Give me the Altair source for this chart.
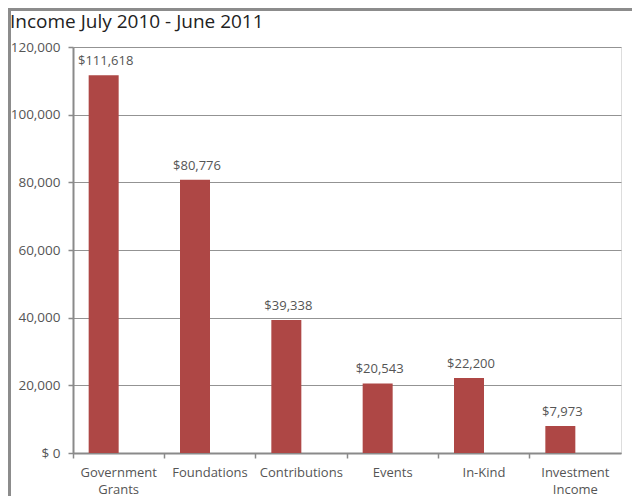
import altair as alt
import pandas as pd

categories = ["Government Grants", "Foundations", "Contributions", "Events", "In-Kind", "Investment Income"]
values = [111618, 80776, 39338, 20543, 22200, 7973]
labels = ["$111,618", "$80,776", "$39,338", "$20,543", "$22,200", "$7,973"]
title_text = "Income July 2010 - June 2011"

df = pd.DataFrame({"category": categories, "value": values, "label": labels})

W, H = 548, 406
FONT = "Open Sans"

x = alt.X("category:N", sort=categories, title=None,
          scale=alt.Scale(paddingInner=0, paddingOuter=0),
          axis=alt.Axis(labelAngle=0, labelExpr="split(datum.label, ' ')",
                        labelFont=FONT, labelFontSize=13, labelColor="#555555",
                        labelPadding=8, labelLineHeight=17, tickSize=5,
                        domainColor="#8a8a8a", domainWidth=2, tickColor="#8a8a8a",
                        tickWidth=1.5, bandPosition=0, ticks=True, grid=False))
y = alt.Y("value:Q", title=None,
          scale=alt.Scale(domain=[0, 120000], nice=False),
          axis=alt.Axis(values=[0, 20000, 40000, 60000, 80000, 100000, 120000],
                        labelExpr="datum.value == 0 ? '$ 0' : format(datum.value, ',')",
                        labelFont=FONT, labelFontSize=13.5, labelColor="#555555",
                        labelPadding=8, tickSize=5, tickColor="#8a8a8a", tickWidth=1.5,
                        domainColor="#8a8a8a", domainWidth=2,
                        grid=True, gridColor="#939393", gridWidth=1.2))

bars = alt.Chart(df).mark_bar(color="#ae4745", width=30, xOffset=-15).encode(x=x, y=y)
text = alt.Chart(df).mark_text(font=FONT, fontSize=13, color="#555555",
                               baseline="alphabetic", dy=-10, xOffset=-13).encode(
    x=alt.X("category:N", sort=categories), y="value:Q", text="label:N")

border = alt.Chart(pd.DataFrame({"a": [0]})).mark_rect(
    fill=None, stroke="#8c8c8c", strokeWidth=3).encode(
    x=alt.value(-63.5), x2=alt.value(W + 40), y=alt.value(-37.5), y2=alt.value(H + 80))

title = alt.Chart(pd.DataFrame({"t": [title_text]})).mark_text(
    font=FONT, fontSize=19, color="#222222", align="left", baseline="alphabetic").encode(
    x=alt.value(-63), y=alt.value(-19.5), text="t:N")

chart = alt.layer(border, bars, text, title).properties(
    width=W, height=H,
    autosize=alt.AutoSizeParams(type="none"),
    padding={"left": 65, "top": 39, "right": 11, "bottom": 43},
).configure_view(stroke=None).configure(background="white")

chart.save("out.html", embed_options={"renderer": "svg", "actions": False})
